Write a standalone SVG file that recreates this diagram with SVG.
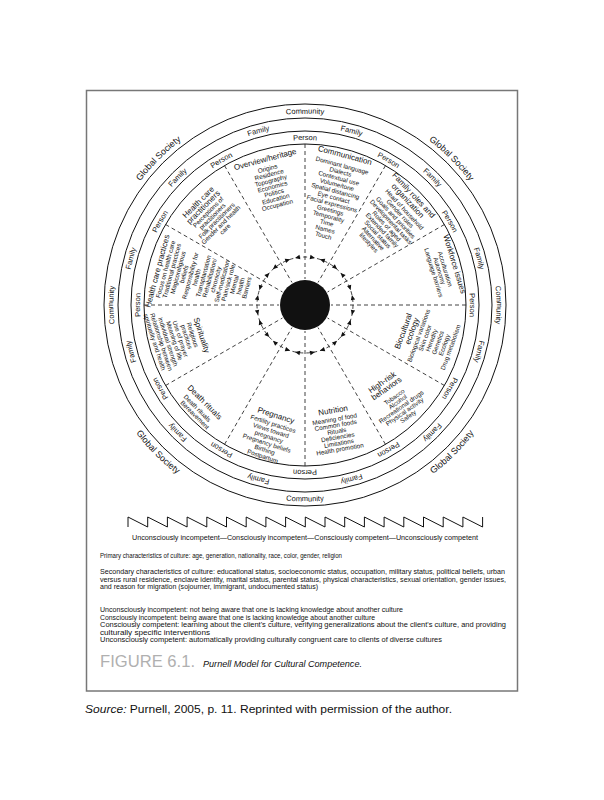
<svg xmlns="http://www.w3.org/2000/svg" width="604" height="800" viewBox="0 0 604 800">
<style>
text{font-family:"Liberation Sans",Arial,sans-serif;fill:#111}
.ti{font-size:8px;text-anchor:middle}
.it{font-size:6.3px;text-anchor:middle}
.rg{font-size:7.5px;text-anchor:middle}
.gs{font-size:9px;text-anchor:middle}
.bd{font-size:6.8px}
.ring{fill:none;stroke:#111;stroke-width:1}
.sp{stroke:#111;stroke-width:0.8;stroke-dasharray:4 3;fill:none}
</style>
<defs>
<path id="cP" d="M305,470 A165,165 0 1 1 305,140 A165,165 0 1 1 305,470 A165,165 0 1 1 305,140 A165,165 0 1 1 305,470"/>
<path id="cF" d="M305,483 A178,178 0 1 1 305,127 A178,178 0 1 1 305,483 A178,178 0 1 1 305,127 A178,178 0 1 1 305,483"/>
<path id="cC" d="M305,496.5 A191.5,191.5 0 1 1 305,113.5 A191.5,191.5 0 1 1 305,496.5 A191.5,191.5 0 1 1 305,113.5 A191.5,191.5 0 1 1 305,496.5"/>
<path id="aC" d="M305,108.5 A196.5,196.5 0 1 0 305,501.5 A196.5,196.5 0 1 0 305,108.5"/>
<path id="cG" d="M305,511 A206,206 0 1 1 305,99 A206,206 0 1 1 305,511 A206,206 0 1 1 305,99 A206,206 0 1 1 305,511"/>
<path id="aG" d="M305,93 A212,212 0 1 0 305,517 A212,212 0 1 0 305,93"/>
<path id="ah" d="M9.98,-46.95 L4.63,-45.84 L5.55,-50.14 Z M-9.98,-46.95 L-4.63,-45.84 L-5.55,-50.14 Z" fill="#111"/>
</defs>
<rect x="86.5" y="90.5" width="431" height="600.5" fill="none" stroke="#777" stroke-width="1.5"/>

<g id="connectors">
<line class="sp" x1="305" y1="144" x2="305" y2="279"/>
<line class="sp" x1="385.5" y1="165.57" x2="318" y2="282.48"/>
<line class="sp" x1="444.43" y1="224.5" x2="327.52" y2="292"/>
<line class="sp" x1="466" y1="305" x2="331" y2="305"/>
<line class="sp" x1="444.43" y1="385.5" x2="327.52" y2="318"/>
<line class="sp" x1="385.5" y1="444.43" x2="318" y2="327.52"/>
<line class="sp" x1="305" y1="466" x2="305" y2="331"/>
<line class="sp" x1="224.5" y1="444.43" x2="292" y2="327.52"/>
<line class="sp" x1="165.57" y1="385.5" x2="282.48" y2="318"/>
<line class="sp" x1="144" y1="305" x2="279" y2="305"/>
<line class="sp" x1="165.57" y1="224.5" x2="282.48" y2="292"/>
<line class="sp" x1="224.5" y1="165.57" x2="292" y2="282.48"/>
<circle class="sp" cx="305" cy="305" r="48"/>
<use href="#ah" transform="translate(305,305)"/>
<use href="#ah" transform="translate(305,305) rotate(30)"/>
<use href="#ah" transform="translate(305,305) rotate(60)"/>
<use href="#ah" transform="translate(305,305) rotate(90)"/>
<use href="#ah" transform="translate(305,305) rotate(120)"/>
<use href="#ah" transform="translate(305,305) rotate(150)"/>
<use href="#ah" transform="translate(305,305) rotate(180)"/>
<use href="#ah" transform="translate(305,305) rotate(210)"/>
<use href="#ah" transform="translate(305,305) rotate(240)"/>
<use href="#ah" transform="translate(305,305) rotate(270)"/>
<use href="#ah" transform="translate(305,305) rotate(300)"/>
<use href="#ah" transform="translate(305,305) rotate(330)"/>
</g>

<g id="rings">
<circle class="ring" cx="305" cy="305" r="161"/>
<circle class="ring" cx="305" cy="305" r="174"/>
<circle class="ring" cx="305" cy="305" r="187"/>
<circle class="ring" cx="305" cy="305" r="201"/>
</g>
<circle id="core" cx="305" cy="305" r="25" fill="#111"/>

<g id="person-labels">
<text class="rg"><textPath href="#cP" startOffset="75%">Person</textPath></text>
<text class="rg"><textPath href="#cP" startOffset="79.1667%">Person</textPath></text>
<text class="rg"><textPath href="#cP" startOffset="83.3333%">Person</textPath></text>
<text class="rg"><textPath href="#cP" startOffset="87.5%">Person</textPath></text>
<text class="rg"><textPath href="#cP" startOffset="91.6667%">Person</textPath></text>
<text class="rg"><textPath href="#cP" startOffset="95.8333%">Person</textPath></text>
<text class="rg"><textPath href="#cP" startOffset="50%">Person</textPath></text>
<text class="rg"><textPath href="#cP" startOffset="54.1667%">Person</textPath></text>
<text class="rg"><textPath href="#cP" startOffset="58.3333%">Person</textPath></text>
<text class="rg"><textPath href="#cP" startOffset="62.5%">Person</textPath></text>
<text class="rg"><textPath href="#cP" startOffset="66.6667%">Person</textPath></text>
<text class="rg"><textPath href="#cP" startOffset="70.8333%">Person</textPath></text>
</g>
<g id="family-labels">
<text class="rg"><textPath href="#cF" startOffset="77.0833%">Family</textPath></text>
<text class="rg"><textPath href="#cF" startOffset="81.25%">Family</textPath></text>
<text class="rg"><textPath href="#cF" startOffset="85.4167%">Family</textPath></text>
<text class="rg"><textPath href="#cF" startOffset="89.5833%">Family</textPath></text>
<text class="rg"><textPath href="#cF" startOffset="93.75%">Family</textPath></text>
<text class="rg"><textPath href="#cF" startOffset="97.9167%">Family</textPath></text>
<text class="rg"><textPath href="#cF" startOffset="52.0833%">Family</textPath></text>
<text class="rg"><textPath href="#cF" startOffset="56.25%">Family</textPath></text>
<text class="rg"><textPath href="#cF" startOffset="60.4167%">Family</textPath></text>
<text class="rg"><textPath href="#cF" startOffset="64.5833%">Family</textPath></text>
<text class="rg"><textPath href="#cF" startOffset="68.75%">Family</textPath></text>
<text class="rg"><textPath href="#cF" startOffset="72.9167%">Family</textPath></text>
</g>
<g id="community-labels">
<text class="rg"><textPath href="#cC" startOffset="75%">Community</textPath></text>
<text class="rg"><textPath href="#cC" startOffset="87.5%">Community</textPath></text>
<text class="rg"><textPath href="#cC" startOffset="62.5%">Community</textPath></text>
<text class="rg"><textPath href="#aC" startOffset="50%">Community</textPath></text>
</g>
<g id="global-labels">
<text class="gs"><textPath href="#cG" startOffset="81.25%">Global Society</textPath></text>
<text class="gs"><textPath href="#cG" startOffset="68.75%">Global Society</textPath></text>
<text class="gs"><textPath href="#aG" startOffset="62.5%">Global Society</textPath></text>
<text class="gs"><textPath href="#aG" startOffset="37.5%">Global Society</textPath></text>
</g>

<g id="w-overview" transform="translate(265,159) rotate(-15)">
<text class="ti" y="3">Overview/heritage</text>
<text class="it" y="12">Origins</text>
<text class="it" y="18.3">Residence</text>
<text class="it" y="24.6">Topography</text>
<text class="it" y="30.9">Economics</text>
<text class="it" y="37.2">Politics</text>
<text class="it" y="43.5">Education</text>
<text class="it" y="49.8">Occupation</text>
</g>
<g id="w-communication" transform="translate(345,155) rotate(15)">
<text class="ti" y="3">Communication</text>
<text class="it" y="13">Dominant language</text>
<text class="it" y="19.6">Dialects</text>
<text class="it" y="26.2">Contextual use</text>
<text class="it" y="32.8">Volume/tone</text>
<text class="it" y="39.4">Spatial distancing</text>
<text class="it" y="46">Eye contact</text>
<text class="it" y="52.6">Facial expressions</text>
<text class="it" y="59.2">Greetings</text>
<text class="it" y="65.8">Temporality</text>
<text class="it" y="72.4">Time</text>
<text class="it" y="79">Names</text>
<text class="it" y="85.6">Touch</text>
</g>
<g id="w-family" transform="translate(414,195) rotate(47)">
<text class="ti" y="3">Family roles and</text>
<text class="ti" y="11">organization</text>
<text class="it" x="4" y="19">Head of household</text>
<text class="it" x="4" y="25.1">Gender roles</text>
<text class="it" x="4" y="31.2">Goals and priorities</text>
<text class="it" x="4" y="37.3">Developmental tasks</text>
<text class="it" x="4" y="43.4">Roles of aged</text>
<text class="it" x="4" y="49.5">Extended family</text>
<text class="it" x="4" y="55.6">Social status</text>
<text class="it" x="4" y="61.7">Alternative</text>
<text class="it" x="4" y="67.8">lifestyles</text>
</g>
<g id="w-workforce" transform="translate(455,264) rotate(73)">
<text class="ti" y="3">Workforce issues</text>
<text class="it" x="2" y="13">Acculturation</text>
<text class="it" x="2" y="19">Autonomy</text>
<text class="it" x="2" y="25">Language barriers</text>
</g>
<g id="w-biocultural" transform="translate(403,331) rotate(-70)">
<text class="ti" y="3">Biocultural</text>
<text class="ti" x="3" y="11">ecology</text>
<text class="it" x="1" y="18.5">Biological variations</text>
<text class="it" x="1" y="25.3">Skin color</text>
<text class="it" x="1" y="32.1">Heredity</text>
<text class="it" x="1" y="38.9">Genetics</text>
<text class="it" x="1" y="45.7">Ecology</text>
<text class="it" x="1" y="52.5">Drug metabolism</text>
</g>
<g id="w-highrisk" transform="translate(382,382) rotate(-35)">
<text class="ti" y="3">High-risk</text>
<text class="ti" y="10.5">behaviors</text>
<text class="it" x="1.5" y="21.5">Tobacco</text>
<text class="it" x="1.5" y="27.5">Alcohol</text>
<text class="it" x="1.5" y="33.5">Recreational drugs</text>
<text class="it" x="1.5" y="39.5">Physical activity</text>
<text class="it" x="1.5" y="45.5">Safety</text>
</g>
<g id="w-nutrition" transform="translate(333,410) rotate(-10)">
<text class="ti" y="3">Nutrition</text>
<text class="it" y="11.5">Meaning of food</text>
<text class="it" y="17.6">Common foods</text>
<text class="it" y="23.7">Rituals</text>
<text class="it" y="29.8">Deficiencies</text>
<text class="it" y="35.9">Limitations</text>
<text class="it" y="42">Health promotion</text>
</g>
<g id="w-pregnancy" transform="translate(276,415) rotate(18)">
<text class="ti" y="3">Pregnancy</text>
<text class="it" y="11.5">Fertility practices</text>
<text class="it" y="18.3">Views toward</text>
<text class="it" y="25.1">pregnancy</text>
<text class="it" y="31.9">Pregnancy beliefs</text>
<text class="it" y="38.7">Birthing</text>
<text class="it" y="45.5">Postpartum</text>
</g>
<g id="w-death" transform="translate(205,402) rotate(45)">
<text class="ti" y="3">Death rituals</text>
<text class="it" x="-1" y="12">Death rituals</text>
<text class="it" x="2" y="18.5">Bereavement</text>
</g>
<g id="w-spirituality" transform="translate(202,335) rotate(72)">
<text class="ti" y="3">Spirituality</text>
<text class="it" x="-3" y="11">Religious</text>
<text class="it" x="-3" y="17.4">practices</text>
<text class="it" x="-3" y="23.8">Use of prayer</text>
<text class="it" x="-3" y="30.2">Meaning of life</text>
<text class="it" x="-4" y="36.6">Individual strength</text>
<text class="it" x="-6" y="43">Relationship between</text>
<text class="it" x="-8" y="49.4">spirituality and health</text>
</g>
<g id="w-practices" transform="translate(157,271) rotate(-75)">
<text class="ti" y="3">Health care practices</text>
<text class="it" x="4" y="10">Focus on health care</text>
<text class="it" x="4" y="16.4">Traditional practices</text>
<text class="it" x="4" y="22.8">Magicoreligious</text>
<text class="it" x="4" y="29.2">beliefs</text>
<text class="it" x="4" y="35.6">Responsibility for</text>
<text class="it" x="4" y="42">health</text>
<text class="it" x="7" y="48.4">Transplantation</text>
<text class="it" x="7" y="54.8">Rehabilitation/</text>
<text class="it" x="7" y="61.2">chronicity</text>
<text class="it" x="7" y="67.6">Self-medication</text>
<text class="it" x="7" y="74">Pain/sick role</text>
<text class="it" x="7" y="80.4">Mental</text>
<text class="it" x="7" y="86.8">health</text>
<text class="it" x="7" y="93.2">Barriers</text>
</g>
<g id="w-practitioners" transform="translate(198,202) rotate(-45)">
<text class="ti" y="3">Health care</text>
<text class="ti" y="10">practitioners</text>
<text class="it" y="16.5">Perceptions of</text>
<text class="it" y="22.5">practitioners</text>
<text class="it" y="28.5">Folk practitioners</text>
<text class="it" y="34.5">Gender and health</text>
<text class="it" y="40.5">care</text>
</g>

<path id="zigzag" d="M128,527 L128,517 L147.7,527 L147.7,517 L167.4,527 L167.4,517 L187.1,527 L187.1,517 L206.8,527 L206.8,517 L226.5,527 L226.5,517 L246.2,527 L246.2,517 L265.9,527 L265.9,517 L285.6,527 L285.6,517 L305.3,527 L305.3,517 L325,527 L325,517 L344.7,527 L344.7,517 L364.4,527 L364.4,517 L384.1,527 L384.1,517 L403.8,527 L403.8,517 L423.5,527 L423.5,517 L443.2,527 L443.2,517 L462.9,527 L462.9,517 L482.6,527 L482.6,517" fill="none" stroke="#111" stroke-width="1"/>

<g id="notes">
<text class="bd" x="305" y="540" text-anchor="middle" textLength="346" lengthAdjust="spacingAndGlyphs">Unconsciously incompetent—Consciously incompetent—Consciously competent—Unconsciously competent</text>
<text class="bd" x="100" y="558" textLength="242" lengthAdjust="spacingAndGlyphs">Primary characteristics of culture: age, generation, nationality, race, color, gender, religion</text>
<text class="bd" x="100" y="574" textLength="405" lengthAdjust="spacingAndGlyphs">Secondary characteristics of culture: educational status, socioeconomic status, occupation, military status, political beliefs, urban</text>
<text class="bd" x="100" y="581.5" textLength="406" lengthAdjust="spacingAndGlyphs">versus rural residence, enclave identity, marital status, parental status, physical characteristics, sexual orientation, gender issues,</text>
<text class="bd" x="100" y="589" textLength="218" lengthAdjust="spacingAndGlyphs">and reason for migration (sojourner, immigrant, undocumented status)</text>
<text class="bd" x="100" y="612" textLength="303" lengthAdjust="spacingAndGlyphs">Unconsciously incompetent: not being aware that one is lacking knowledge about another culture</text>
<text class="bd" x="100" y="619.5" textLength="275" lengthAdjust="spacingAndGlyphs">Consciously incompetent: being aware that one is lacking knowledge about another culture</text>
<text class="bd" x="100" y="627" textLength="406" lengthAdjust="spacingAndGlyphs">Consciously competent:  learning about the client's culture, verifying generalizations about the client's culture, and providing</text>
<text class="bd" x="100" y="634.5" textLength="110" lengthAdjust="spacingAndGlyphs">culturally specific interventions</text>
<text class="bd" x="100" y="642" textLength="342" lengthAdjust="spacingAndGlyphs">Unconsciously competent: automatically providing culturally congruent care to clients of diverse cultures</text>
</g>
<g id="caption">
<text x="100" y="667" style="font-size:16px;fill:#b0b0b0" textLength="95" lengthAdjust="spacingAndGlyphs">FIGURE 6.1.</text>
<text x="203" y="667" style="font-size:9.5px;font-style:italic" textLength="159" lengthAdjust="spacingAndGlyphs">Purnell Model for Cultural Competence.</text>
<text x="85" y="713" style="font-size:10px" textLength="367" lengthAdjust="spacingAndGlyphs"><tspan font-style="italic">Source:</tspan> Purnell, 2005, p. 11. Reprinted with permission of the author.</text>
</g>
</svg>
